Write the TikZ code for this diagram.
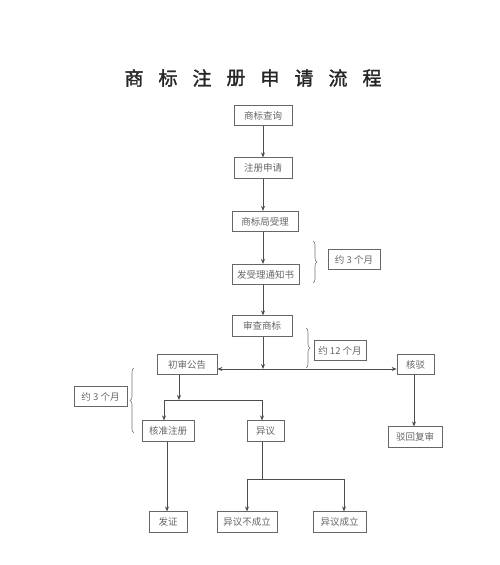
\documentclass[tikz,border=0pt]{standalone}
\usepackage{fontspec}
\setmainfont{Noto Sans CJK SC}
\newfontfamily\tfont[FakeBold=1.6]{Noto Sans CJK SC}
\usetikzlibrary{arrows.meta,decorations.pathreplacing}
\begin{document}
\begin{tikzpicture}[x=1pt,y=-1pt,
  box/.style={draw=black!60, line width=0.7pt, minimum height=20.5pt, inner sep=0pt,
    font=\fontsize{9.5}{10}\selectfont, text=black!60},
  conn/.style={draw=black!70, line width=0.7pt},
  arr/.style={conn,-{Stealth[length=5pt,width=4pt]}},
  brc/.style={draw=black!55, line width=0.6pt, decorate, decoration={brace,amplitude=4pt}},
  ttl/.style={font=\tfont\fontsize{19}{20}\selectfont, text=black!85}]
\useasboundingbox (0,0) rectangle (500,565);
% title
\foreach \c [count=\i from 0] in {商,标,注,册,申,请,流,程}
  \node[ttl] (t\i) at (134+34*\i,78) {\c};
% nodes
\node[box, minimum width=58pt] (cx) at (263,115.5) {商标查询};
\node[box, minimum width=58pt] (sq) at (263,168) {注册申请};
\node[box, minimum width=66pt] (sl) at (265,221.5) {商标局受理};
\node[box, minimum width=67pt] (tz) at (265.5,274.5) {发受理通知书};
\node[box, minimum width=52pt] (m3a) at (354,259.5) {约 3 个月};
\node[box, minimum width=60pt] (sc) at (262,326) {审查商标};
\node[box, minimum width=52pt] (m12) at (340,350.5) {约 12 个月};
\node[box, minimum width=60pt] (cs) at (187,364.5) {初审公告};
\node[box, minimum width=37pt] (hb) at (415.5,364.5) {核驳};
\node[box, minimum width=54pt] (bh) at (415,437) {驳回复审};
\node[box, minimum width=53pt] (m3b) at (100.5,396.5) {约 3 个月};
\node[box, minimum width=52pt] (hz) at (168,431) {核准注册};
\node[box, minimum width=37pt] (yy) at (265.5,431) {异议};
\node[box, minimum width=38pt] (fz) at (168,522) {发证};
\node[box, minimum width=60pt] (ybc) at (247,522) {异议不成立};
\node[box, minimum width=53pt] (ycl) at (339.5,522) {异议成立};
% junctions
\coordinate (j0) at (263,369);
\coordinate (j1) at (179,400);
\coordinate (j1l) at (164,400);
\coordinate (j1r) at (262,400);
\coordinate (j2) at (262,479);
\coordinate (j2l) at (247,479);
\coordinate (j2r) at (344,479);
% connectors
\draw[arr] (cx) -- (sq);
\draw[arr] (sq) -- (sl.north -| sq);
\draw[arr] (sl.south -| sq) -- (tz.north -| sq);
\draw[arr] (tz.south -| sq) -- (sc.north -| sq);
\draw[arr] (sc.south -| j0) -- (j0);
\draw[arr] (j0) -- (j0 -| cs.east);
\draw[arr] (j0) -- (j0 -| hb.west);
\draw[arr] (hb.south -| 414,0) -- (bh.north -| 414,0);
\draw[arr] (cs.south -| j1) -- (j1);
\draw[conn] (j1l) -- (j1r);
\draw[arr] (j1l) -- (j1l |- hz.north);
\draw[arr] (j1r) -- (j1r |- yy.north);
\draw[arr] (hz.south -| 167,0) -- (fz.north -| 167,0);
\draw[conn] (yy.south -| j2) -- (j2);
\draw[conn] (j2l) -- (j2r);
\draw[arr] (j2l) -- (ybc.north -| j2l);
\draw[arr] (j2r) -- (ycl.north -| j2r);
% braces
\draw[brc] (313,241) -- (313,283);
\draw[brc] (306,328) -- (306,368);
\draw[brc] (134,433) -- (134,368);
\end{tikzpicture}
\end{document}
